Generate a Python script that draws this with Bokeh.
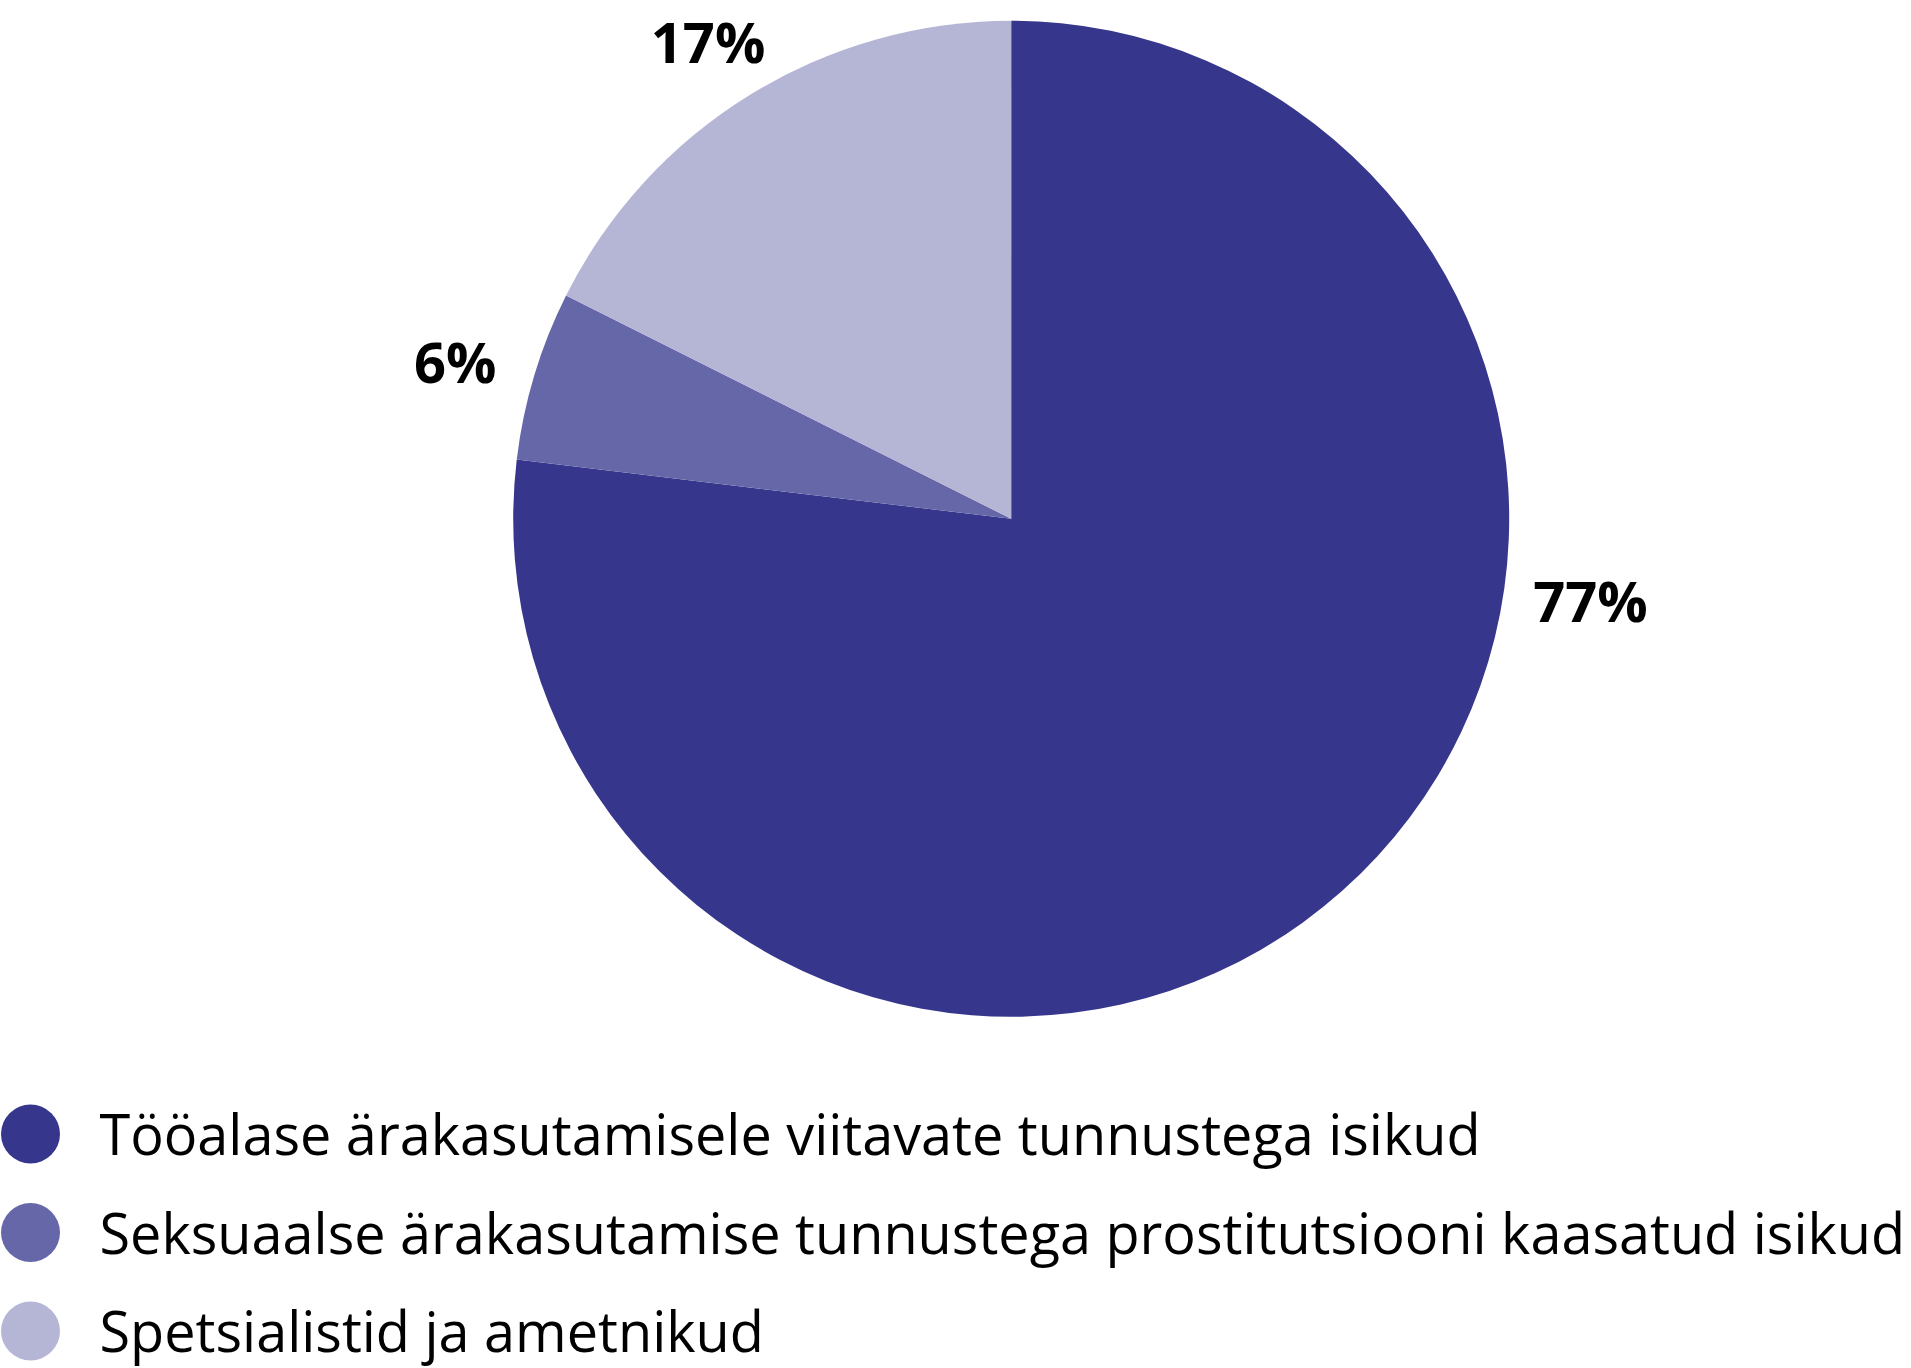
import math
from bokeh.plotting import figure
from bokeh.models import Range1d, ColumnDataSource
from bokeh.core.properties import value
from bokeh.embed import file_html
from bokeh.resources import INLINE

# ---- data ----
categories = [
    "Tööalase ärakasutamisele viitavate tunnustega isikud",
    "Seksuaalse ärakasutamise tunnustega prostitutsiooni kaasatud isikud",
    "Spetsialistid ja ametnikud",
]
shares = [76.9, 5.5, 17.6]
share_labels = ["77%", "6%", "17%"]
colors = ["#36378c", "#6667a9", "#b5b6d6"]

# ---- layout ----
W, H = 1911, 1368
cx, cy = 1010.7, H - 518.3
R = 498

p = figure(width=W, height=H, output_backend="svg", toolbar_location=None,
           x_range=Range1d(0, W), y_range=Range1d(0, H), min_border=0)
p.axis.visible = False
p.grid.visible = False
p.outline_line_color = None
p.background_fill_color = "white"
p.border_fill_color = "white"

total = sum(shares)
starts, ends, mids = [], [], []
a = math.pi / 2
for s in shares:
    sweep = s / total * 2 * math.pi
    starts.append(a)
    ends.append(a - sweep)
    mids.append(a - sweep / 2)
    a -= sweep

src = ColumnDataSource(dict(x=[cx] * 3, y=[cy] * 3, start=starts, end=ends, color=colors))
p.wedge(x="x", y="y", radius=R, start_angle="start", end_angle="end",
        direction="clock", fill_color="color", line_color=None, source=src)

# label positions: small slices near mid angle, large slice label placed right of pie
lab_ang = [math.radians(-7.98), mids[1] + math.radians(0.9), mids[2] + math.radians(0.7)]
lab_r = [585, 578, 566]
lx = [cx + r * math.cos(t) for r, t in zip(lab_r, lab_ang)]
ly = [cy + r * math.sin(t) for r, t in zip(lab_r, lab_ang)]
p.text(x=lx, y=ly, text=share_labels, text_font=value("Open Sans"),
       text_font_style="bold", text_font_size="56px", text_align="center",
       text_baseline="middle", text_color="black")

# legend
leg_y0 = H - 1133.5
step = 98.5
leg_y = [leg_y0 - i * step for i in range(len(categories))]
p.scatter(x=[30] * 3, y=leg_y, size=59, marker="circle", fill_color=colors, line_color=None)
p.text(x=[99] * 3, y=[v + 1 for v in leg_y], text=categories, text_font=value("Open Sans"),
       text_font_size="55.8px", text_align="left", text_baseline="middle", text_color="black")

open("out.html", "w").write(file_html(p, INLINE))
